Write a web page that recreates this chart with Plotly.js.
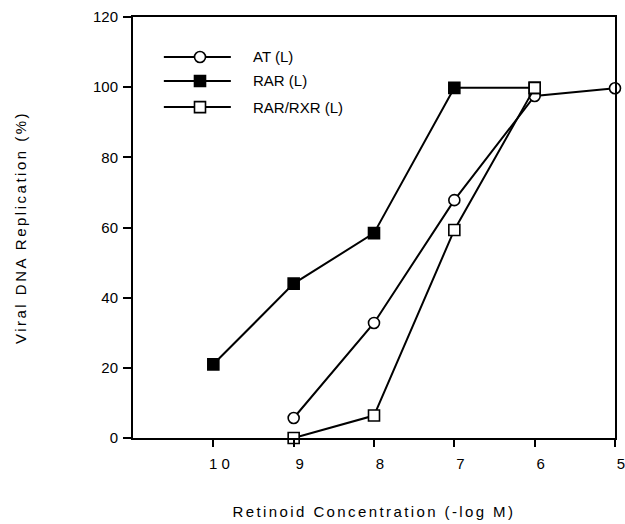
<!DOCTYPE html>
<html>
<head>
<meta charset="utf-8">
<script src="https://cdn.plot.ly/plotly-3.0.1.min.js"></script>
<style>
  html, body { margin: 0; padding: 0; background: #fff; }
  #chart { width: 625px; height: 524px; }
  .xtitle { letter-spacing: 2.4px; }
  .ytitle { letter-spacing: 2.5px; }
</style>
</head>
<body>
<div id="chart"></div>
<script>
// Data
var concentrations = [10, 9, 8, 7, 6, 5];
var tickLabels = ['1 0', '9', '8', '7', '6', '5'];

var atX = [9, 8, 7, 6, 5];
var atY = [5.7, 32.8, 67.8, 97.5, 99.7];

var rarX = [10, 9, 8, 7, 6];
var rarY = [21, 44, 58.4, 99.8, 99.8];

var rxrX = [9, 8, 7, 6];
var rxrY = [0, 6.4, 59.3, 99.8];

var seriesNames = ['AT (L)', 'RAR (L)', 'RAR/RXR (L)'];

var FONT = 'Liberation Sans, Arial, Helvetica, sans-serif';

function trace(x, y, name, symbol, fill) {
  return {
    x: x, y: y, name: name, type: 'scatter', mode: 'lines+markers',
    cliponaxis: false, showlegend: false,
    line: { color: '#000', width: 2 },
    marker: { symbol: symbol, size: 11, color: fill, line: { color: '#000', width: 1.6 } }
  };
}

var data = [
  trace(atX, atY, seriesNames[0], 'circle', '#fff'),
  trace(rarX, rarY, seriesNames[1], 'square', '#000'),
  trace(rxrX, rxrY, seriesNames[2], 'square', '#fff')
];

// Hand-drawn legend (layout decoration)
var legendRows = [0.905, 0.848, 0.786];
var legendSymbols = ['circle', 'rect', 'rect'];
var legendFills = ['#fff', '#000', '#fff'];
var shapes = [];
var annotations = [];
for (var i = 0; i < 3; i++) {
  shapes.push({ type: 'line', xref: 'paper', yref: 'paper', x0: 0.064, x1: 0.203,
    y0: legendRows[i], y1: legendRows[i], line: { color: '#000', width: 2 } });
  shapes.push({ type: legendSymbols[i], xref: 'paper', yref: 'paper',
    xsizemode: 'pixel', ysizemode: 'pixel', xanchor: 0.139, yanchor: legendRows[i],
    x0: -5.5, x1: 5.5, y0: -5.5, y1: 5.5,
    fillcolor: legendFills[i], line: { color: '#000', width: 1.6 } });
  annotations.push({ xref: 'paper', yref: 'paper', x: 0.245, y: legendRows[i],
    xanchor: 'left', yanchor: 'middle', showarrow: false, text: seriesNames[i],
    font: { family: FONT, size: 15, color: '#000' } });
}

var layout = {
  width: 625, height: 524,
  margin: { l: 133, r: 10, t: 17, b: 86 },
  paper_bgcolor: '#fff', plot_bgcolor: '#fff',
  font: { family: FONT, size: 15, color: '#000' },
  showlegend: false,
  xaxis: {
    range: [11, 5], tickvals: concentrations, ticktext: tickLabels,
    ticks: 'outside', ticklen: 7, tickwidth: 2, tickcolor: '#000',
    ticklabelshift: -6, ticklabelstandoff: 4, ticklabeloverflow: 'allow',
    showline: true, linewidth: 2, linecolor: '#000', mirror: true,
    showgrid: false, zeroline: false,
    tickfont: { family: FONT, size: 15, color: '#000' },
    title: { text: 'Retinoid Concentration (-log M)', standoff: 35,
      font: { family: FONT, size: 15, color: '#000' } }
  },
  yaxis: {
    range: [0, 120], dtick: 20, tick0: 0,
    ticks: 'outside', ticklen: 8, tickwidth: 2, tickcolor: '#000',
    ticklabelstandoff: 2,
    showline: true, linewidth: 2, linecolor: '#000', mirror: true,
    showgrid: false, zeroline: false,
    tickfont: { family: FONT, size: 15, color: '#000' },
    title: { text: 'Viral DNA Replication (%)', standoff: 62.5,
      font: { family: FONT, size: 15, color: '#000' } }
  },
  shapes: shapes,
  annotations: annotations
};

Plotly.newPlot('chart', data, layout, { displayModeBar: false, staticPlot: true });
</script>
</body>
</html>
